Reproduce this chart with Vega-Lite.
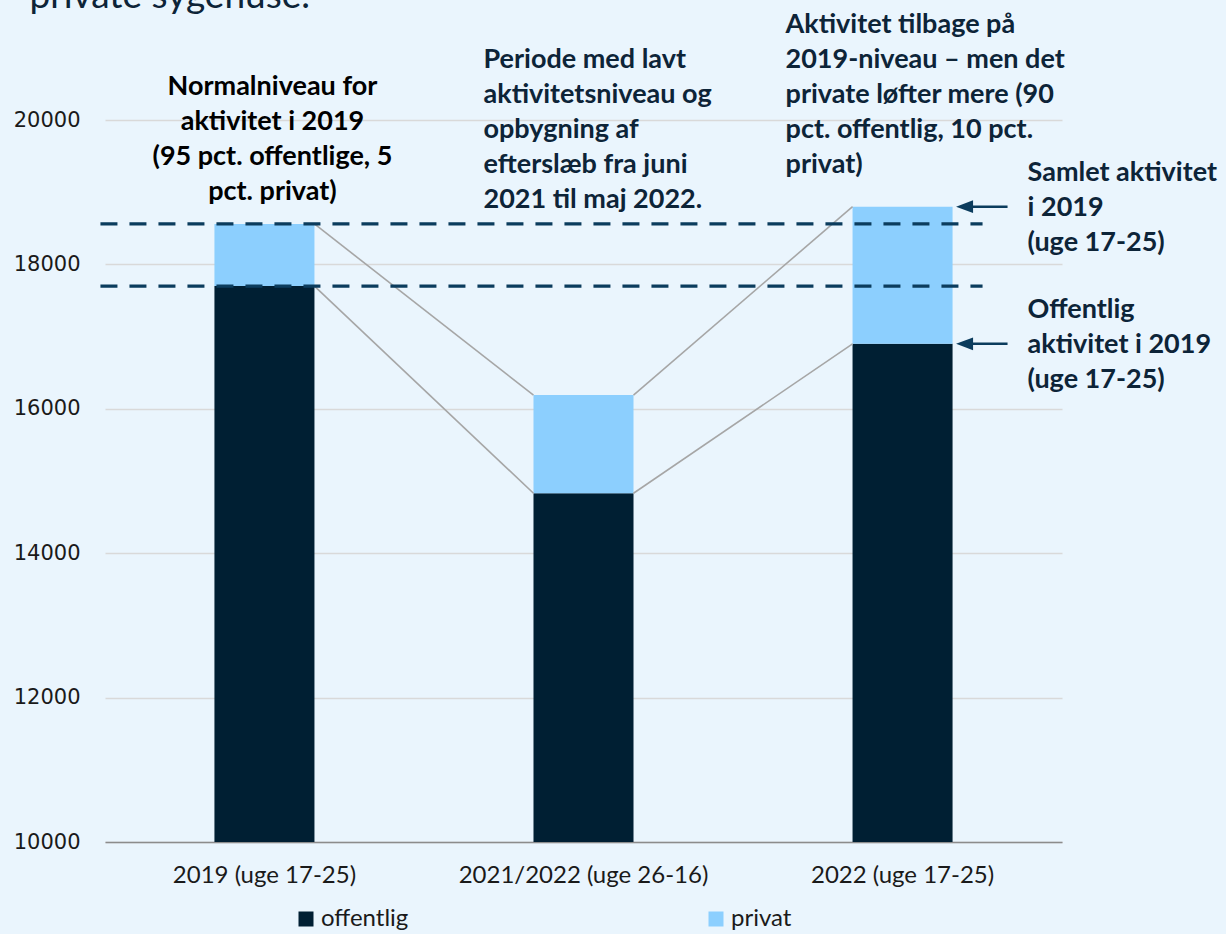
{
  "$schema": "https://vega.github.io/schema/vega-lite/v6.json",
  "width": 957,
  "height": 722,
  "autosize": {"type": "none"},
  "padding": {"left": 105, "top": 120, "right": 164, "bottom": 92},
  "background": "#EAF5FD",
  "config": {
    "view": {"stroke": null},
    "font": "Lato"
  },
  "datasets": {
    "bars": [
      {"periode": "2019 (uge 17-25)", "sektor": "offentlig", "aktivitet": 17700},
      {"periode": "2019 (uge 17-25)", "sektor": "privat", "aktivitet": 860},
      {"periode": "2021/2022 (uge 26-16)", "sektor": "offentlig", "aktivitet": 14830},
      {"periode": "2021/2022 (uge 26-16)", "sektor": "privat", "aktivitet": 1360},
      {"periode": "2022 (uge 17-25)", "sektor": "offentlig", "aktivitet": 16900},
      {"periode": "2022 (uge 17-25)", "sektor": "privat", "aktivitet": 1900}
    ],
    "connectors": [
      {"fra": "2019 (uge 17-25)", "til": "2021/2022 (uge 26-16)", "v1": 18560, "v2": 16190},
      {"fra": "2019 (uge 17-25)", "til": "2021/2022 (uge 26-16)", "v1": 17700, "v2": 14830},
      {"fra": "2021/2022 (uge 26-16)", "til": "2022 (uge 17-25)", "v1": 16190, "v2": 18800},
      {"fra": "2021/2022 (uge 26-16)", "til": "2022 (uge 17-25)", "v1": 14830, "v2": 16900}
    ],
    "levels2019": [
      {"fra": "2019 (uge 17-25)", "til": "2022 (uge 17-25)", "niveau": 18560},
      {"fra": "2019 (uge 17-25)", "til": "2022 (uge 17-25)", "niveau": 17700}
    ],
    "arrows": [
      {"periode": "2022 (uge 17-25)", "niveau": 18800},
      {"periode": "2022 (uge 17-25)", "niveau": 16900}
    ]
  },
  "encoding": {
    "x": {
      "field": "periode",
      "type": "nominal",
      "sort": null,
      "scale": {
        "domain": ["2019 (uge 17-25)", "2021/2022 (uge 26-16)", "2022 (uge 17-25)"],
        "paddingInner": 0.6865,
        "paddingOuter": 0.343
      },
      "axis": {
        "title": null,
        "labelAngle": 0,
        "ticks": false,
        "domain": true,
        "domainColor": "#8C8C8C",
        "domainWidth": 1.5,
        "labelFont": "Lato",
        "labelFontSize": 24,
        "labelLimit": 500,
        "labelColor": "#1A1A1A",
        "labelPadding": 21,
        "grid": false
      }
    }
  },
  "layer": [
    {
      "data": {"name": "bars"},
      "mark": {"type": "bar", "clip": true},
      "encoding": {
        "y": {
          "field": "aktivitet",
          "type": "quantitative",
          "stack": "zero",
          "scale": {"domain": [10000, 20000], "nice": false, "zero": false},
          "axis": {
            "title": null,
            "values": [10000, 12000, 14000, 16000, 18000, 20000],
            "format": "d",
            "domain": false,
            "ticks": false,
            "grid": true,
            "gridColor": "#D9D9D9",
            "gridWidth": 1.5,
            "labelFont": "DejaVu Sans",
            "labelFontSize": 21,
            "labelColor": "#1A1A1A",
            "labelPadding": 25
          }
        },
        "color": {
          "field": "sektor",
          "type": "nominal",
          "scale": {"domain": ["offentlig", "privat"], "range": ["#001F33", "#8CCFFE"]},
          "legend": {
            "title": null,
            "orient": "none",
            "direction": "horizontal",
            "legendX": 189,
            "legendY": 787,
            "symbolType": "square",
            "symbolSize": 225,
            "symbolStrokeWidth": 0,
            "labelFont": "Lato",
            "labelFontSize": 24,
            "labelColor": "#1A1A1A",
            "labelOffset": 3,
            "columnPadding": 295,
            "padding": 0
          }
        },
        "order": {"field": "sektor", "sort": "ascending"}
      }
    },
    {
      "data": {"name": "connectors"},
      "mark": {"type": "rule", "color": "#A6A6A6", "strokeWidth": 1.6, "xOffset": 50, "x2Offset": -50},
      "encoding": {
        "x": {"field": "fra", "type": "nominal"},
        "x2": {"field": "til"},
        "y": {"field": "v1", "type": "quantitative"},
        "y2": {"field": "v2"}
      }
    },
    {
      "data": {"name": "levels2019"},
      "mark": {"type": "rule", "color": "#0B3C5D", "strokeWidth": 3.2, "strokeDash": [17, 12], "xOffset": -164, "x2Offset": 80},
      "encoding": {
        "x": {"field": "fra", "type": "nominal"},
        "x2": {"field": "til"},
        "y": {"field": "niveau", "type": "quantitative"}
      }
    },
    {
      "data": {"name": "arrows"},
      "mark": {"type": "rule", "color": "#0B3C5D", "strokeWidth": 2.5, "xOffset": 68, "x2Offset": 105},
      "encoding": {
        "x": {"field": "periode", "type": "nominal"},
        "x2": {"field": "periode"},
        "y": {"field": "niveau", "type": "quantitative"}
      }
    },
    {
      "data": {"name": "arrows"},
      "mark": {"type": "point", "shape": "M-1,0L1,-0.75L1,0.75Z", "filled": true, "size": 289, "color": "#0B3C5D", "opacity": 1, "xOffset": 62},
      "encoding": {
        "x": {"field": "periode", "type": "nominal"},
        "y": {"field": "niveau", "type": "quantitative"}
      }
    },
    {
      "data": {"values": [{"periode": "2019 (uge 17-25)", "niveau": 20000, "tekst": "private sygehuse."}]},
      "mark": {"type": "text", "font": "Lato", "fontSize": 37, "align": "left", "baseline": "alphabetic", "color": "#0D2438", "dx": -235, "dy": -112},
      "encoding": {
        "x": {"field": "periode", "type": "nominal"},
        "y": {"field": "niveau", "type": "quantitative"},
        "text": {"field": "tekst"}
      }
    },
    {
      "data": {"values": [{"periode": "2019 (uge 17-25)", "niveau": 18560, "tekst": ["Normalniveau for", "aktivitet i 2019", "(95 pct. offentlige, 5", "pct. privat)"]}]},
      "mark": {"type": "text", "font": "Lato", "fontWeight": "bold", "fontSize": 27, "lineHeight": 35, "align": "center", "baseline": "alphabetic", "color": "#000000", "dx": 8, "dy": -129},
      "encoding": {
        "x": {"field": "periode", "type": "nominal"},
        "y": {"field": "niveau", "type": "quantitative"},
        "text": {"field": "tekst"}
      }
    },
    {
      "data": {"values": [{"periode": "2021/2022 (uge 26-16)", "niveau": 16190, "tekst": ["Periode med lavt", "aktivitetsniveau og", "opbygning af", "efterslæb fra juni", "2021 til maj 2022."]}]},
      "mark": {"type": "text", "font": "Lato", "fontWeight": "bold", "fontSize": 27, "lineHeight": 35, "align": "left", "baseline": "alphabetic", "color": "#0D2438", "dx": -100, "dy": -327},
      "encoding": {
        "x": {"field": "periode", "type": "nominal"},
        "y": {"field": "niveau", "type": "quantitative"},
        "text": {"field": "tekst"}
      }
    },
    {
      "data": {"values": [{"periode": "2022 (uge 17-25)", "niveau": 18800, "tekst": ["Aktivitet tilbage på", "2019-niveau – men det", "private løfter mere (90", "pct. offentlig, 10 pct.", "privat)"]}]},
      "mark": {"type": "text", "font": "Lato", "fontWeight": "bold", "fontSize": 27, "lineHeight": 35, "align": "left", "baseline": "alphabetic", "color": "#0D2438", "dx": -117, "dy": -174},
      "encoding": {
        "x": {"field": "periode", "type": "nominal"},
        "y": {"field": "niveau", "type": "quantitative"},
        "text": {"field": "tekst"}
      }
    },
    {
      "data": {"values": [
        {"periode": "2022 (uge 17-25)", "niveau": 18800, "tekst": ["Samlet aktivitet", "i 2019", "(uge 17-25)"]},
        {"periode": "2022 (uge 17-25)", "niveau": 16900, "tekst": ["Offentlig", "aktivitet i 2019", "(uge 17-25)"]}
      ]},
      "mark": {"type": "text", "font": "Lato", "fontWeight": "bold", "fontSize": 27, "lineHeight": 35, "align": "left", "baseline": "alphabetic", "color": "#0D2438", "dx": 125, "dy": -26},
      "encoding": {
        "x": {"field": "periode", "type": "nominal"},
        "y": {"field": "niveau", "type": "quantitative"},
        "text": {"field": "tekst"}
      }
    }
  ]
}
